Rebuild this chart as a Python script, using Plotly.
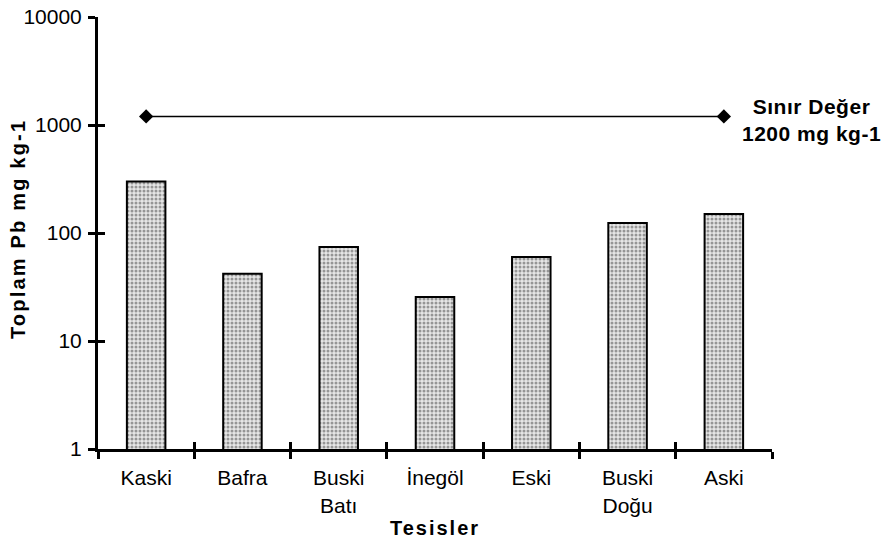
import plotly.graph_objects as go

categories = ["Kaski", "Bafra", "Buski<br>Batı", "İnegöl", "Eski", "Buski<br>Doğu", "Aski"]
pb_values = [300, 42, 74, 25.5, 60, 124, 150]
limit_value = 1200
limit_x = [categories[0], categories[-1]]
y_tick_vals = [1, 10, 100, 1000, 10000]
y_tick_text = ["1", "10", "100", "1000", "10000"]

FONT = "Liberation Sans, Arial, sans-serif"

fig = go.Figure()
fig.add_trace(go.Bar(
    x=categories, y=pb_values,
    marker=dict(
        color="#e6e6e6",
        line=dict(color="black", width=2),
        pattern=dict(shape=".", size=4, solidity=0.45, fgcolor="#444444", bgcolor="#e6e6e6", fillmode="overlay"),
    ),
    showlegend=False,
))
fig.add_trace(go.Scatter(
    x=limit_x, y=[limit_value, limit_value],
    mode="lines+markers",
    line=dict(color="black", width=1.5),
    marker=dict(symbol="diamond", size=11, color="black"),
    showlegend=False,
))
# invisible trace to carry secondary axes for crossing ticks
fig.add_trace(go.Scatter(x=categories, y=pb_values, xaxis="x2", yaxis="y2",
                         mode="markers", marker=dict(opacity=0), showlegend=False, hoverinfo="skip"))

fig.update_layout(
    width=885, height=542,
    margin=dict(l=98, r=113, t=17, b=93),
    paper_bgcolor="white", plot_bgcolor="white",
    font=dict(family=FONT, size=21, color="black"),
    bargap=0.6,
    xaxis=dict(
        type="category", showline=True, linecolor="black", linewidth=3,
        ticks="outside", tickson="boundaries", ticklen=7, tickwidth=3, tickcolor="black",
        ticklabelstandoff=8, ticklabeloverflow="allow",
        showgrid=False, zeroline=False, automargin=False,
        title=dict(text='<b><span style="letter-spacing:2px">Tesisler</span></b>', font=dict(size=20), standoff=6),
        tickfont=dict(size=21),
    ),
    yaxis=dict(
        type="log", range=[0, 4], showline=True, linecolor="black", linewidth=3,
        tickvals=y_tick_vals, ticktext=y_tick_text,
        ticks="outside", ticklen=7, tickwidth=3, tickcolor="black",
        ticklabelstandoff=2, ticklabeloverflow="allow",
        showgrid=False, zeroline=False, automargin=False,
        tickfont=dict(size=21),
    ),
    xaxis2=dict(
        type="category", overlaying="x", matches="x", anchor="y2",
        showline=False, ticks="inside", tickson="boundaries", ticklen=7, tickwidth=3, tickcolor="black",
        showticklabels=False, showgrid=False, zeroline=False, automargin=False,
    ),
    yaxis2=dict(
        type="log", range=[0, 4], overlaying="y", anchor="x2",
        tickvals=y_tick_vals, ticks="inside", ticklen=7, tickwidth=3, tickcolor="black",
        showticklabels=False, showgrid=False, zeroline=False, showline=False, automargin=False,
    ),
    annotations=[
        dict(
            text='<b><span style="letter-spacing:0.5px">Sınır Değer<br>1200 mg kg-1</span></b>',
            xref="paper", yref="y", x=1.059, y=3.05, xanchor="center", yanchor="middle",
            showarrow=False, font=dict(size=21, family=FONT),
        ),
        dict(
            text='<b><span style="letter-spacing:2.2px">Toplam Pb mg kg-1</span></b>',
            xref="paper", yref="paper", x=-0.1187, y=0.509, xanchor="center", yanchor="middle",
            textangle=-90, showarrow=False, font=dict(size=20, family=FONT),
        ),
    ],
)

fig.write_html("out.html", config={"displayModeBar": False},
               post_script="document.body.style.margin='0';")
